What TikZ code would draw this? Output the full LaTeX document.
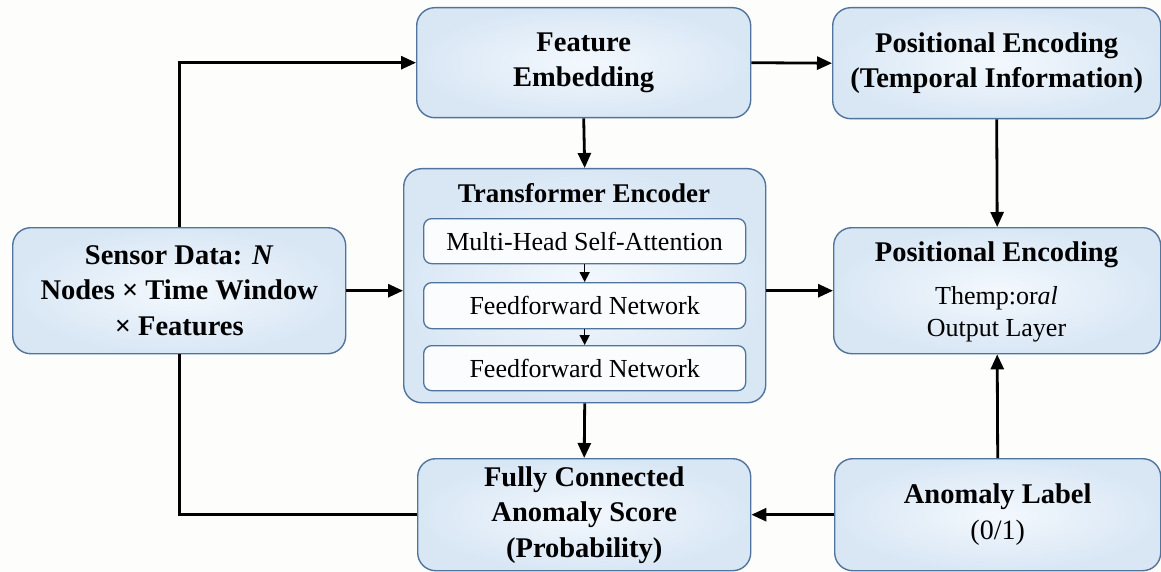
\documentclass[tikz,border=0pt]{standalone}
\usepackage{fontspec}
\setmainfont{Liberation Serif}
\usetikzlibrary{arrows.meta}

\definecolor{boxedge}{RGB}{80,116,156}
\definecolor{boxin}{RGB}{243,248,253}
\definecolor{boxout}{RGB}{217,231,245}
\definecolor{paper}{RGB}{253,253,251}

\newcommand\plainfont{\fontsize{26}{32}\selectfont\mdseries}

\tikzset{
  box/.style={draw=boxedge, line width=1.4pt, rounded corners=18pt,
    inner color=boxin, outer color=boxout, anchor=north west,
    align=center, font=\fontsize{28.5}{35.5}\selectfont\bfseries},
  subbox/.style={draw=boxedge, line width=1.3pt, rounded corners=8pt,
    fill=white!60!boxin, anchor=north west, minimum width=322pt,
    font=\fontsize{26}{30}\selectfont},
  arr/.style={line width=2.8pt, -{Triangle[length=15pt,width=13pt]}},
  link/.style={line width=2.8pt},
  subarr/.style={line width=1.6pt, -{Triangle[length=10pt,width=10pt]}}
}

\begin{document}
\begin{tikzpicture}[x=1pt,y=-1pt]
  \fill[paper] (0,0) rectangle (1161,572);
  \useasboundingbox (0,0) rectangle (1161,572);

  % main blocks
  \node[box, minimum width=334pt, minimum height=110pt] (fe) at (416,7)
    {Feature\\Embedding};
  \node[box, minimum width=328pt, minimum height=111pt] (pe) at (832,7)
    {Positional Encoding\\(Temporal Information)};
  \node[box, minimum width=333pt, minimum height=126pt] (sd) at (12,227)
    {Sensor Data: \textit{N}\\Nodes × Time Window\\× Features};
  \node[box, minimum width=362pt, minimum height=234pt] (te) at (403,168) {};
  \node[box, minimum width=327pt, minimum height=126pt] (out) at (833,227) {};
  \node[box, minimum width=333pt, minimum height=112pt] (fc) at (417,458)
    {Fully Connected\\Anomaly Score\\(Probability)};
  \node[box, minimum width=326pt, minimum height=112pt] (al) at (834,458)
    {Anomaly Label\\{\fontsize{28}{32}\selectfont\mdseries (0/1)}};

  % output block text
  \node[font=\fontsize{28.5}{34}\selectfont\bfseries] (ot) at (996.5,255) {Positional Encoding};
  \node[font=\plainfont, align=center] (ol) at (996.5,314) {Themp:or\textit{al}\\Output Layer};

  % encoder contents
  \node[font=\fontsize{27}{30}\selectfont\bfseries] (tt) at (584,193) {Transformer Encoder};
  \node[subbox, minimum height=45pt] (b1) at (423,218) {Multi-Head Self-Attention};
  \node[subbox, minimum height=46pt] (b2) at (423,282) {Feedforward Network};
  \node[subbox, minimum height=45pt] (b3) at (423,345) {Feedforward Network};
  \draw[subarr] (b1.south) -- (b2.north);
  \draw[subarr] (b2.south) -- (b3.north);

  % connectors
  \draw[arr] (sd.north) |- (fe.west);
  \draw[link] (sd.south) |- (fc.west);
  \draw[arr] (sd.east) -- (sd.east -| te.west);
  \draw[arr] (fe.east) -- (pe.west);
  \draw[arr] (fe.south) -- (te.north);
  \draw[arr] (pe.south) -- (out.north);
  \draw[arr] (te.east |- out.west) -- (out.west);
  \draw[arr] (te.south) -- (fc.north);
  \draw[arr] (al.west) -- (fc.east);
  \draw[arr] (al.north) -- (out.south);
\end{tikzpicture}
\end{document}
